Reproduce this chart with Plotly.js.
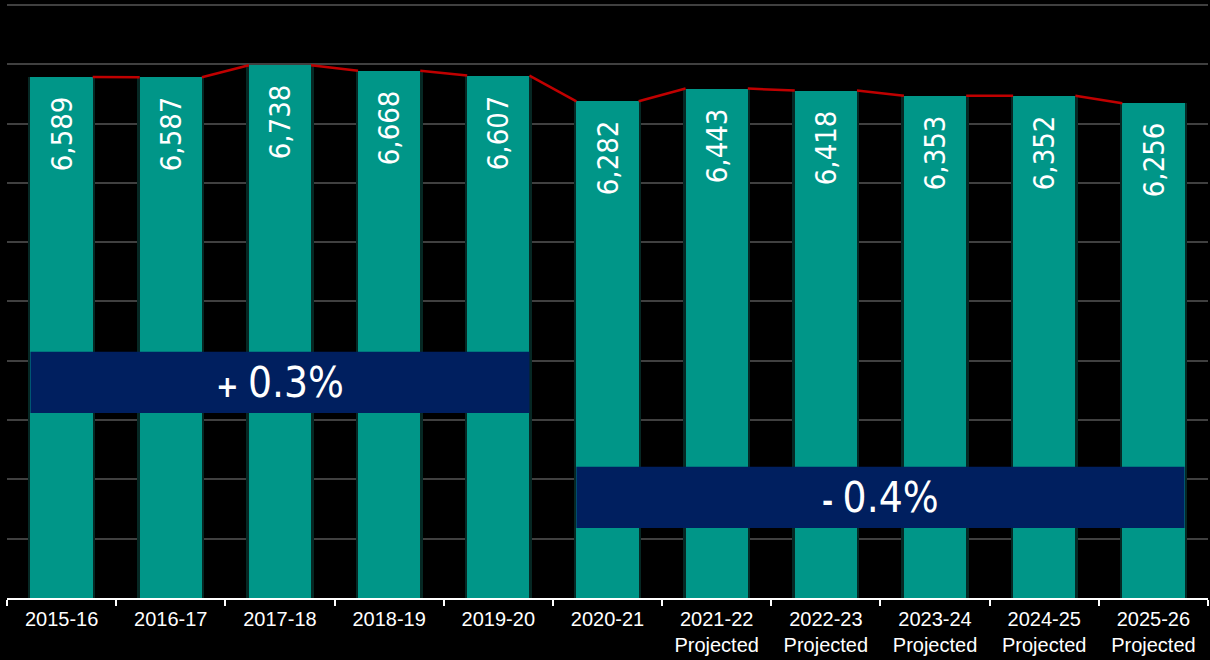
<!DOCTYPE html>
<html>
<head>
<meta charset="utf-8">
<script src="https://cdn.plot.ly/plotly-3.0.1.min.js"></script>
<style>
  html, body { margin: 0; padding: 0; background: #000; }
  #chart { width: 1210px; height: 660px; }
</style>
</head>
<body>
<div id="chart"></div>
<script>
// Enrolment by year
const years = ['2015-16', '2016-17', '2017-18', '2018-19', '2019-20', '2020-21',
  '2021-22<br>Projected', '2022-23<br>Projected', '2023-24<br>Projected',
  '2024-25<br>Projected', '2025-26<br>Projected'];
const values = [6589, 6587, 6738, 6668, 6607, 6282, 6443, 6418, 6353, 6352, 6256];

// growth bands: first/last bar index, label, value band
const bandFrom = [0, 5];
const bandTo = [4, 10];
const bandText = ['+', '-'];
const bandRate = ['0.3%', '0.4%'];
const bandLow = [2340, 885];
const bandHigh = [3115, 1660];

const barW = 0.57;
const idx = years.map((_, i) => i);
const condensed = '"Liberation Sans Narrow", "DejaVu Sans Condensed", sans-serif';

// red connector: from right top corner of a bar to left top corner of the next
const lineX = [], lineY = [];
for (let i = 0; i < values.length - 1; i++) {
  lineX.push(i + barW / 2, i + 1 - barW / 2, null);
  lineY.push(values[i], values[i + 1], null);
}

const glow = {
  type: 'bar', x: idx, y: values, width: barW + 0.045,
  marker: { color: '#062824' }, hoverinfo: 'skip', showlegend: false
};

const bars = {
  type: 'bar', x: idx, y: values, width: barW,
  marker: { color: '#009688' },
  texttemplate: '%{y:,}  ',
  textposition: 'inside',
  insidetextanchor: 'end',
  textangle: -90,
  constraintext: 'none',
  textfont: { family: condensed, size: 29, color: '#ffffff' },
  showlegend: false
};

const connector = {
  type: 'scatter', mode: 'lines', x: lineX, y: lineY,
  line: { color: '#c00000', width: 2.5 }, hoverinfo: 'skip', showlegend: false
};

const shapes = bandFrom.map((f, k) => ({
  type: 'rect', xref: 'x', yref: 'y',
  x0: f - barW / 2, x1: bandTo[k] + barW / 2,
  y0: bandLow[k], y1: bandHigh[k],
  fillcolor: '#001f5f', line: { width: 0 }, layer: 'above'
}));

const annotations = bandFrom.map((f, k) => ({
  xref: 'x', yref: 'y',
  x: (f + bandTo[k]) / 2, y: (bandLow[k] + bandHigh[k]) / 2,
  text: '<span style="font-size:30px;font-weight:bold">' + bandText[k] + ' </span>' + bandRate[k],
  showarrow: false,
  font: { family: condensed, size: 42, color: '#ffffff' }
}));

const layout = {
  width: 1210, height: 660,
  paper_bgcolor: '#000000', plot_bgcolor: '#000000',
  margin: { l: 7, r: 2, t: 3, b: 62 },
  barmode: 'overlay',
  bargap: 0,
  xaxis: {
    range: [-0.5, values.length - 0.5],
    tickvals: idx, ticktext: years,
    ticks: '', showgrid: false, zeroline: false,
    showline: true, linecolor: '#ffffff', linewidth: 2,
    ticklabelstandoff: 2,
    tickfont: { family: 'Liberation Sans, Arial, sans-serif', size: 20, color: '#ffffff' },
    minor: {
      tickvals: [-0.5].concat(idx.map(i => i + 0.5)),
      ticks: 'outside', ticklen: 6, tickcolor: '#ffffff', tickwidth: 2, showgrid: false
    }
  },
  yaxis: {
    range: [0, 7525], dtick: 750,
    showticklabels: false, zeroline: false,
    gridcolor: '#404040', gridwidth: 2
  },
  shapes: shapes,
  annotations: annotations
};

Plotly.newPlot('chart', [glow, bars, connector], layout, { displayModeBar: false });
</script>
</body>
</html>
